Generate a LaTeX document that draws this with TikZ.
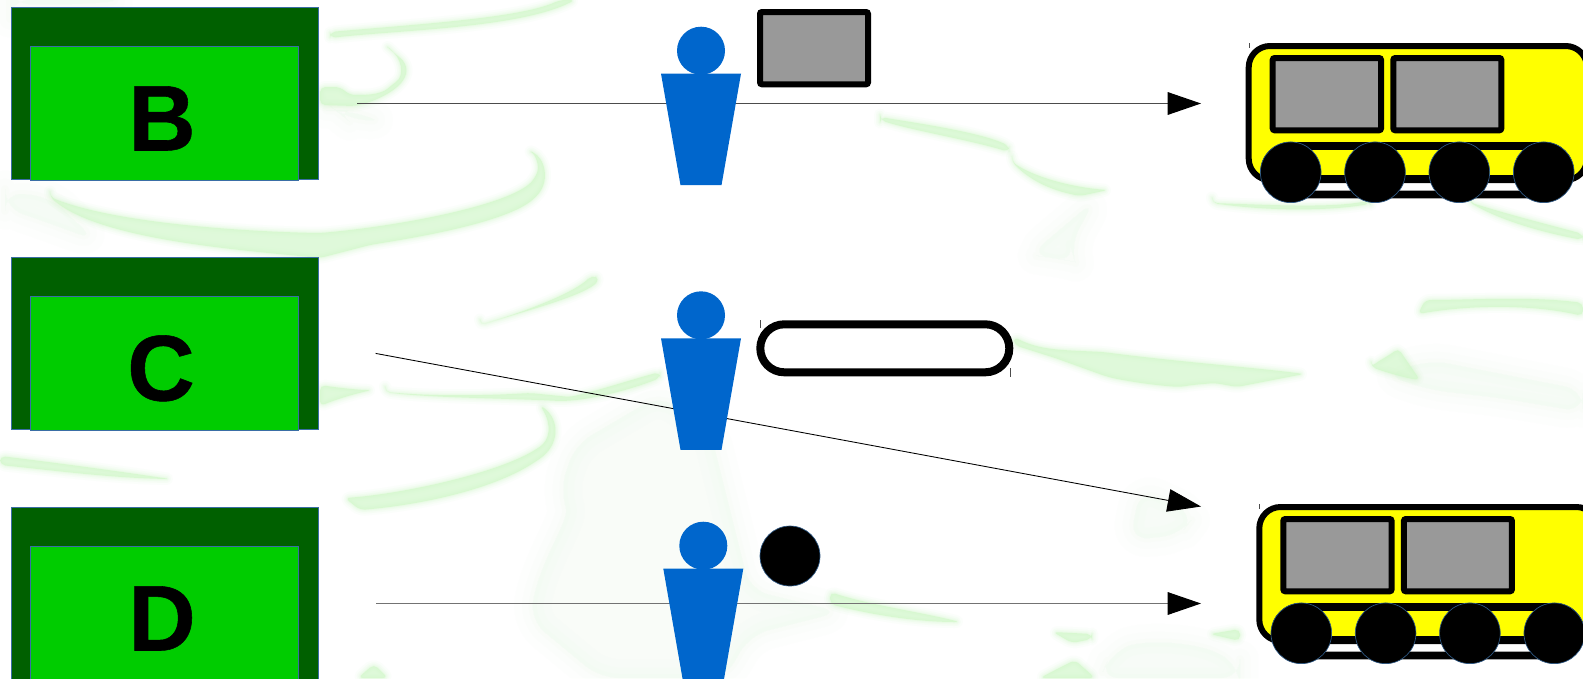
\documentclass[tikz,border=0pt]{standalone}
\usepackage{fontspec}
\setmainfont[BoldFeatures={FakeBold=0.6}]{Liberation Sans}
\usetikzlibrary{arrows.meta}
\definecolor{darkgreen}{HTML}{006000}
\definecolor{lightgreen}{HTML}{00CC00}
\definecolor{edgeblue}{HTML}{3A6EA5}
\definecolor{personblue}{HTML}{0066CC}
\definecolor{wingray}{HTML}{999999}
\definecolor{busyellow}{HTML}{FFFF00}
\definecolor{streakgreen}{HTML}{CFF7C7}
\definecolor{palegreen}{HTML}{E6FBE0}
\tikzset{
  outerbox/.style={draw=edgeblue,line width=0.6pt,fill=darkgreen,outer sep=0pt,inner sep=0pt,anchor=north west,minimum width=230.25pt,minimum height=129.4pt},
  innerbox/.style={draw=edgeblue,line width=0.6pt,fill=lightgreen,outer sep=0pt,inner sep=0pt,anchor=north west,minimum width=201.4pt,minimum height=100.5pt},
  letterlabel/.style={anchor=base,font=\fontsize{70}{70}\selectfont\bfseries,text=black,inner sep=0pt},
  flow/.style={line width=0.8pt,-{Triangle[length=25pt,width=17pt,color=black,fill=black]}},
  personshape/.style={fill=personblue,draw=none},
  winshape/.style={draw=black,line width=4.5pt,fill=wingray,rounded corners=1.5pt},
  wheelshape/.style={circle,fill=black,draw=edgeblue!80!black,line width=0.5pt,minimum size=45.5pt,inner sep=0pt},
  tick/.style={draw=black!70,line width=0.5pt},
  softw/.style={draw=streakgreen,line join=round,rounded corners=4pt},
  softp/.style={draw=palegreen,fill=palegreen,line join=round,rounded corners=14pt}
}
\newcommand{\blob}[1]{%
  \path[softw,opacity=0.07,line width=9pt] #1;
  \path[softw,opacity=0.10,line width=6pt] #1;
  \path[softw,opacity=0.14,line width=3.5pt] #1;
  \path[softw,opacity=0.18,line width=1.5pt] #1;
  \fill[streakgreen,opacity=0.65,rounded corners=4pt] #1;
}
\newcommand{\paleblob}[1]{%
  \path[softp,opacity=0.05,line width=28pt] #1;
  \path[softp,opacity=0.06,line width=16pt] #1;
  \path[softp,opacity=0.08,line width=6pt] #1;
}
\newcommand{\personfig}[3]{% name, x centre, y body top
  \node[circle,fill=personblue,minimum size=36pt,inner sep=0pt] (#1head) at (#2,#3-23) {};
  \path[personshape] (#2-40,#3) -- (#2+40,#3) -- (#2+20.5,#3+111.5) -- (#2-20.5,#3+111.5) -- cycle;
}
\newcommand{\trainfig}[3]{% name, dx, dy
  \begin{scope}[shift={(#2,#3)}]
    \draw[line width=4.5pt,draw=black,fill=busyellow,rounded corners=16pt] (1248.7,46) rectangle (1587,180);
    \draw[line width=6pt,draw=black] (1291,179) -- (1544,179);
    \draw[tick] (1249,43) -- (1249,48);
    \draw[winshape] (1272.7,58) rectangle (1381,130.3);
    \draw[winshape] (1393.3,58) rectangle (1501.3,130.3);
    \draw[line width=5.8pt,draw=black,rounded corners=19pt] (1264.5,146) rectangle (1570,194.5);
    \node[wheelshape] (#1w1) at (1290.7,172.3) {};
    \node[wheelshape] (#1w2) at (1375,172.3) {};
    \node[wheelshape] (#1w3) at (1459.3,172.3) {};
    \node[wheelshape] (#1w4) at (1543.7,172.3) {};
  \end{scope}
}
\begin{document}
\begin{tikzpicture}[x=0.75pt,y=-0.75pt]
\useasboundingbox (0,0) rectangle (1583,678);
\clip (0,0) rectangle (1583,678);
\fill[white] (0,0) rectangle (1583,678);
% very pale washes
\paleblob{(530,620) .. controls (540,560) and (570,520) .. (560,490) -- (575,445) -- (660,395) -- (710,430) -- (750,590) -- (840,612) -- (750,635) -- (725,678) -- (600,678) -- cycle}
\paleblob{(1110,655) .. controls (1140,640) and (1200,640) .. (1240,668) -- (1240,678) -- (1100,678) -- cycle}
\paleblob{(1385,375) -- (1430,360) -- (1583,390) -- (1583,412) -- (1500,398) -- (1430,390) -- cycle}
\paleblob{(1140,490) -- (1195,515) -- (1180,535) -- (1130,540) -- cycle}
\paleblob{(10,0) -- (125,0) -- (90,4) -- (10,4) -- cycle}
\paleblob{(5,192) -- (50,197) -- (95,240) -- (40,220) -- (5,208) -- cycle}
\paleblob{(335,110) -- (345,110) -- (385,122) -- (345,118) -- cycle}
\paleblob{(1030,255) -- (1095,200) -- (1070,245) -- (1075,262) -- (1055,258) -- cycle}
% crescents
\blob{(330,38) .. controls (400,30) and (520,28) .. (575,0) -- (560,0) .. controls (520,18) and (420,24) .. (330,32) -- cycle}
\blob{(385,45) .. controls (402,58) and (405,75) .. (392,85) .. controls (380,95) and (365,95) .. (350,95) -- (340,87) -- (320,87) -- (320,105) -- (355,106) .. controls (380,100) and (410,85) .. (405,62) -- cycle}
\blob{(50,197) .. controls (120,225) and (260,232) .. (320,233) .. controls (400,226) and (510,205) .. (535,178) .. controls (540,165) and (535,155) .. (528,150) .. controls (545,158) and (550,180) .. (535,198) .. controls (500,225) and (400,240) .. (370,245) -- (320,258) .. controls (240,250) and (100,240) .. (50,197) -- cycle}
\blob{(480,325) .. controls (530,310) and (575,292) .. (592,275) -- (600,279) .. controls (585,295) and (530,310) .. (480,325) -- cycle}
\blob{(880,117) .. controls (910,122) and (980,132) .. (1009,146) -- (1009,152) .. controls (970,140) and (910,130) .. (880,120) -- cycle}
\blob{(1012,162) .. controls (1040,180) and (1080,188) .. (1108,190) -- (1080,196) .. controls (1050,190) and (1030,180) .. (1012,162) -- cycle}
\blob{(1212,203) .. controls (1270,205) and (1330,208) .. (1367,201) -- (1370,204) .. controls (1320,212) and (1260,210) .. (1212,203) -- cycle}
\blob{(1469,202) .. controls (1510,215) and (1550,225) .. (1583,234) -- (1583,240) .. controls (1540,232) and (1500,220) .. (1469,202) -- cycle}
\blob{(1014,337) .. controls (1040,350) and (1060,350) .. (1103,352) .. controls (1180,362) and (1260,368) .. (1304,374) -- (1237,387) -- (1215,383) -- (1192,385) -- (1180,387) .. controls (1150,385) and (1120,380) .. (1105,376) -- (1055,358) -- (1014,345) -- cycle}
\blob{(1371,367) .. controls (1380,360) and (1390,355) .. (1398,348) -- (1420,380) .. controls (1405,378) and (1385,372) .. (1371,367) -- cycle}
\blob{(1425,300) .. controls (1470,300) and (1530,296) .. (1583,303) -- (1583,316) .. controls (1530,304) and (1470,305) .. (1418,314) -- cycle}
\blob{(320,385) .. controls (340,388) and (360,390) .. (372,390) .. controls (350,395) and (335,400) .. (320,406) -- cycle}
\blob{(385,392) .. controls (430,396) and (480,396) .. (530,393) -- (570,397) .. controls (600,390) and (630,380) .. (660,372) -- (660,378) .. controls (630,390) and (590,400) .. (560,401) .. controls (500,398) and (430,398) .. (385,392) -- cycle}
\blob{(345,498) .. controls (400,494) and (490,475) .. (535,450) .. controls (550,440) and (552,425) .. (540,405) .. controls (560,420) and (560,445) .. (535,462) .. controls (490,490) and (420,505) .. (360,510) -- cycle}
\blob{(0,456) .. controls (50,462) and (110,470) .. (170,479) .. controls (110,478) and (50,470) .. (0,465) -- cycle}
\blob{(830,592) .. controls (870,605) and (920,612) .. (960,622) .. controls (910,622) and (860,612) .. (830,604) -- cycle}
\blob{(1053,632) -- (1092,634) -- (1092,639) -- (1072,643) -- cycle}
\blob{(1210,634) -- (1240,629) -- (1240,641) -- cycle}
\blob{(1040,678) .. controls (1055,670) and (1065,665) .. (1075,660) -- (1095,678) -- cycle}
\blob{(358,678) -- (374,664) -- (388,678) -- cycle}
% source boxes
\node[outerbox] (bouter) at (11,7.3) {};
\node[innerbox] (binner) at (30.3,46) {};
\node[letterlabel] (blabel) at (162,150.5) {B};
\node[outerbox] (couter) at (11,257.3) {};
\node[innerbox] (cinner) at (30.3,296) {};
\node[letterlabel] (clabel) at (161,400.5) {C};
\node[outerbox] (douter) at (11,507.5) {};
\node[innerbox] (dinner) at (30.3,546) {};
\node[letterlabel] (dlabel) at (162,650.5) {D};
% connectors
\coordinate (bstart) at (357,103.5);
\coordinate (bend) at (1201,103.5);
\coordinate (cstart) at (375.6,353.4);
\coordinate (cend) at (1201,506.5);
\coordinate (dstart) at (376,603.5);
\coordinate (dend) at (1201,603.5);
\draw[flow,draw=black!70] (bstart) -- (bend);
\draw[flow,draw=black,line width=0.65pt] (cstart) -- (cend);
\draw[flow,draw=black!55] (dstart) -- (dend);
% persons
\personfig{pb}{701}{73.7}
\personfig{pc}{701}{338.3}
\personfig{pd}{703.3}{568.7}
% loads
\draw[winshape] (760,12) rectangle (868,84.3);
\draw[draw=black,line width=6pt,rounded corners=18pt] (760.3,324.3) rectangle (1009.3,372.3);
\draw[tick] (760.3,320) -- (760.3,328);
\draw[tick] (1010,368) -- (1010,376.7);
\node[circle,fill=black,draw=edgeblue!80!black,line width=0.5pt,minimum size=45pt,inner sep=0pt] (ball) at (790,556) {};
% trains
\trainfig{ta}{0}{0}
\trainfig{tb}{10.6}{461}
\end{tikzpicture}
\end{document}
